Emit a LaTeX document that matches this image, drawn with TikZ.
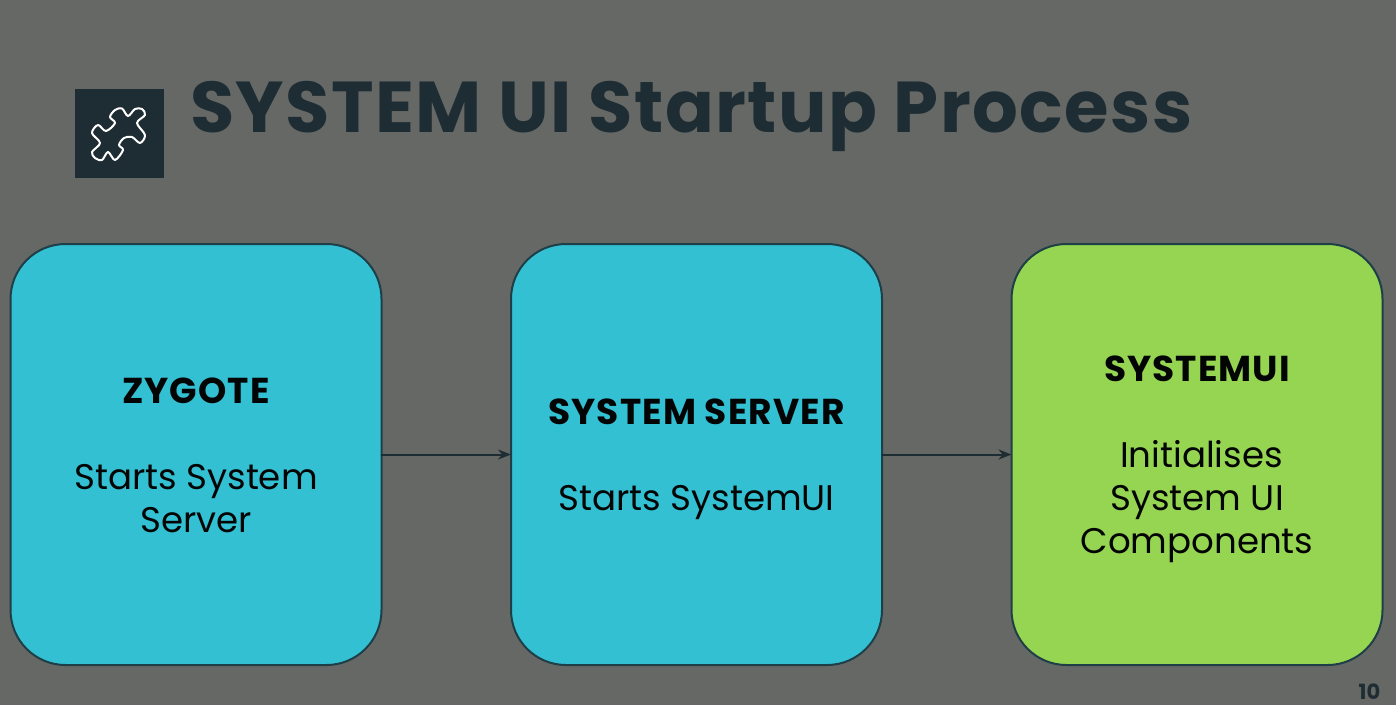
\documentclass[tikz,border=0pt]{standalone}
\usepackage{fontspec}
\setmainfont{Poppins}
\usepackage{xcolor}
\usetikzlibrary{arrows.meta,positioning}
\definecolor{slidebg}{HTML}{666865}
\definecolor{ink}{HTML}{1E2D33}
\definecolor{boxedge}{HTML}{1F3F48}
\definecolor{softcyan}{HTML}{33C0D3}
\definecolor{softgreen}{HTML}{96D551}
\tikzset{
    every picture/.style={line cap=round,line join=round},
    stagebox/.style={draw=boxedge,fill=softcyan,line width=2pt,rounded corners=55pt,
      minimum width=371pt,minimum height=421pt,inner sep=0pt,outer sep=0pt,
      text=black!90!ink,font=\fontsize{35.6}{43}\selectfont,align=center},
    greenbox/.style={stagebox,fill=softgreen},
    flowarrow/.style={-{Stealth[length=13pt,width=10pt]},draw=ink,line width=2pt}
}
\newcommand{\stagehead}[1]{\rule{0pt}{39pt}{\bfseries\fontsize{36}{43}\selectfont\addfontfeature{LetterSpace=3}#1}}

\begin{document}
\begin{tikzpicture}[x=1pt,y=1pt]
  \fill[slidebg] (0,-705) rectangle (1396,0);
  \useasboundingbox (0,-705) rectangle (1396,0);
  % heading
  \node[fill=ink,minimum size=89pt,inner sep=0pt,outer sep=0pt] (icon) at (119.5,-133) {};
  \draw[white,line width=2pt] plot[smooth cycle,tension=0.55] coordinates {
    (110,-117) (115,-110) (122,-108.5) (128,-116) (135,-109) (142,-109) (145,-115) (137,-123)
    (145,-135) (140,-143) (132,-137) (124,-138) (119,-145) (123,-150) (115,-160) (108,-152)
    (102,-160) (95,-158) (92,-152) (100,-143) (92,-133) (98,-125) (106,-131) (115,-123)};
  \node[right=26pt of icon.north east,anchor=base west,yshift=-44pt,inner sep=0pt,text=ink,
    font=\bfseries\fontsize{72}{80}\selectfont\addfontfeature{LetterSpace=2}] (title) {SYSTEM UI Startup Process};
  % boxes
  \node[stagebox] (zygote) at (196,-454.5) {\stagehead{ZYGOTE}\\[43pt]Starts System\\Server\strut};
  \node[stagebox,right=129.5pt of zygote] (server) {\stagehead{SYSTEM SERVER}\\[43pt]Starts SystemUI\strut};
  \node[greenbox,right=129.5pt of server] (sysui) {\stagehead{SYSTEMUI}\\[43pt]\hspace*{9pt}Initialises\\System UI\\Components\strut};
  \draw[flowarrow] (zygote)--(server);
  \draw[flowarrow] (server)--(sysui);
  \node[text=ink,inner sep=0pt,font=\bfseries\fontsize{21}{24}\selectfont] (pageno) at (1369.5,-692) {10};
\end{tikzpicture}
\end{document}
